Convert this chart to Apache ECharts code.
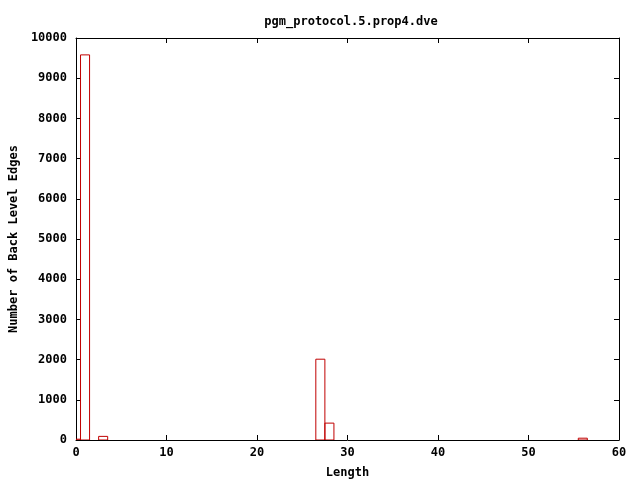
<!DOCTYPE html>
<html><head><meta charset="utf-8">
<script src="https://cdn.jsdelivr.net/npm/echarts@6/dist/echarts.min.js"></script>
<style>html,body{margin:0;padding:0;background:#fff}#c{width:640px;height:480px}</style>
</head><body><div id="c"></div>
<script>
var lengths = [0, 1, 3, 27, 28, 56];
var counts = [20, 9580, 90, 2010, 420, 45];
var xTicks = [0, 10, 20, 30, 40, 50, 60];
var yTicks = [0, 1000, 2000, 3000, 4000, 5000, 6000, 7000, 8000, 9000, 10000];
var titleText = 'pgm_protocol.5.prop4.dve';
var xName = 'Length';
var yName = 'Number of Back Level Edges';

var font = 'DejaVu Sans Mono';
var fs = 12;
var data = lengths.map(function (l, i) { return [l, counts[i]]; });
var chart = echarts.init(document.getElementById('c'), null, {renderer: 'canvas'});
var axisLabel = {fontFamily: font, fontWeight: 'bold', fontSize: fs, color: '#000',
  formatter: function (v) { return String(v); }};
function mkX(pos, show) {
  return {type: 'value', position: pos, min: xTicks[0], max: xTicks[xTicks.length - 1], interval: xTicks[1] - xTicks[0],
    axisLine: {show: true, onZero: false, lineStyle: {color: '#000', width: 1}},
    axisTick: {show: true, inside: true, length: 5, lineStyle: {color: '#000'}},
    axisLabel: Object.assign({show: show, margin: 7}, axisLabel),
    splitLine: {show: false},
    name: show ? xName : '', nameLocation: 'middle', nameGap: 27,
    nameTextStyle: {fontFamily: font, fontWeight: 'bold', fontSize: fs, color: '#000'}};
}
function mkY(pos, show) {
  return {type: 'value', position: pos, min: yTicks[0], max: yTicks[yTicks.length - 1], interval: yTicks[1] - yTicks[0],
    axisLine: {show: true, onZero: false, lineStyle: {color: '#000', width: 1}},
    axisTick: {show: true, inside: true, length: 5, lineStyle: {color: '#000'}},
    axisLabel: Object.assign({show: show, margin: 9}, axisLabel),
    splitLine: {show: false},
    name: show ? yName : '', nameLocation: 'middle', nameGap: 55,
    nameTextStyle: {fontFamily: font, fontWeight: 'bold', fontSize: fs, color: '#000'}};
}
chart.setOption({
  animation: false,
  backgroundColor: '#fff',
  title: {text: titleText, left: 346, top: 11, textAlign: 'center',
    textStyle: {fontFamily: font, fontWeight: 'bold', fontSize: fs, color: '#000'}},
  grid: {left: 76, right: 21, top: 38, bottom: 40, containLabel: false, outerBoundsMode: 'none'},
  xAxis: [mkX('bottom', true), mkX('top', false)],
  yAxis: [mkY('left', true), mkY('right', false)],
  series: [{
    type: 'custom',
    clip: true,
    data: data,
    renderItem: function (params, api) {
      var x = api.value(0), y = api.value(1);
      var p0 = api.coord([x - 0.5, 0]);
      var p1 = api.coord([x + 0.5, y]);
      var rect = echarts.graphic.clipRectByRect({
        x: p0[0], y: p1[1], width: p1[0] - p0[0], height: p0[1] - p1[1]
      }, {x: params.coordSys.x, y: params.coordSys.y, width: params.coordSys.width, height: params.coordSys.height});
      if (!rect) return null;
      return {type: 'rect', shape: rect,
        style: {fill: 'none', stroke: '#c00000', lineWidth: 1}};
    }
  }]
});
</script></body></html>
